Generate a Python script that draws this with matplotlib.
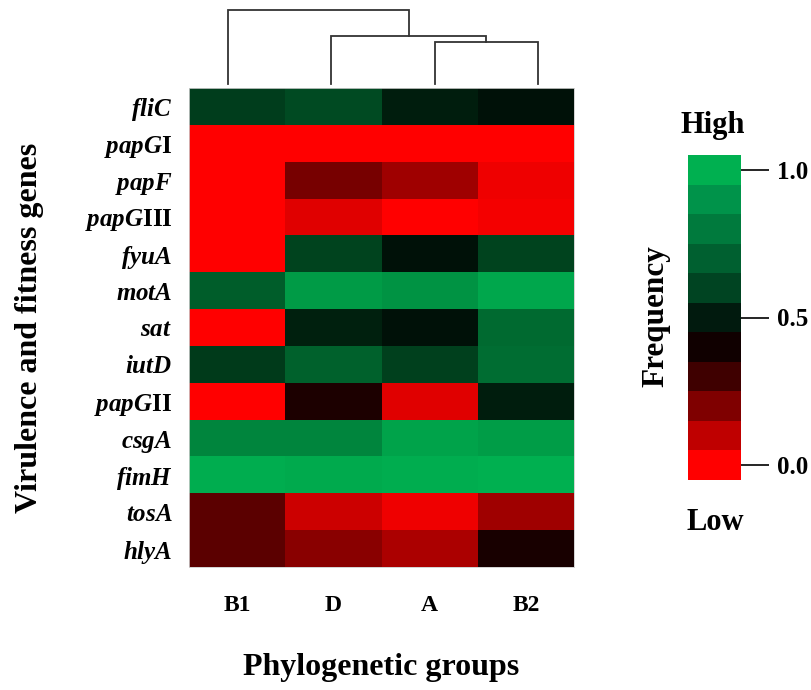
import numpy as np
import matplotlib
matplotlib.use("Agg")
import matplotlib.pyplot as plt
from matplotlib.colors import LinearSegmentedColormap, ListedColormap, BoundaryNorm

# 热图数据：行 = 基因，列 = 系统发育群
genes = ["fliC", "papGI", "papF", "papGIII", "fyuA", "motA", "sat",
         "iutD", "papGII", "csgA", "fimH", "tosA", "hlyA"]
gene_labels = [r"$\mathit{fliC}$", r"$\mathit{papG}\mathrm{I}$", r"$\mathit{papF}$",
               r"$\mathit{papG}\mathrm{III}$", r"$\mathit{fyuA}$", r"$\mathit{motA}$",
               r"$\mathit{sat}$", r"$\mathit{iutD}$", r"$\mathit{papG}\mathrm{II}$",
               r"$\mathit{csgA}$", r"$\mathit{fimH}$", r"$\mathit{tosA}$", r"$\mathit{hlyA}$"]
groups = ["B1", "D", "A", "B2"]

freq_B1 = [0.64, 0.00, 0.00, 0.00, 0.00, 0.74, 0.00, 0.63, 0.00, 0.865, 0.99, 0.29, 0.29]
freq_D = [0.68, 0.00, 0.24, 0.055, 0.66, 0.93, 0.55, 0.75, 0.40, 0.865, 0.98, 0.09, 0.21]
freq_A = [0.54, 0.00, 0.17, 0.00, 0.50, 0.91, 0.50, 0.65, 0.055, 0.96, 0.99, 0.03, 0.15]
freq_B2 = [0.50, 0.00, 0.03, 0.02, 0.66, 0.97, 0.78, 0.79, 0.54, 0.94, 1.00, 0.17, 0.41]

# 聚类树：(左, 右, 高度)
merges = [("A", "B2", 0.57), ("D", "A+B2", 0.65), ("B1", "D+A+B2", 1.00)]

# 图例色块
bar_colors = ["#FF0000", "#BF0000", "#7F0000", "#3F0000", "#100000",
              "#011A0E", "#004422", "#006030", "#007A3D", "#00934A", "#00B050"]
bar_ticks = [0.0, 0.5, 1.0]

plt.rcParams["font.family"] = ["Liberation Serif", "DejaVu Serif"]
plt.rcParams["font.weight"] = "bold"
plt.rcParams["mathtext.fontset"] = "custom"
plt.rcParams["mathtext.rm"] = "Liberation Serif:bold"
plt.rcParams["mathtext.it"] = "Liberation Serif:italic:bold"
plt.rcParams["mathtext.bf"] = "Liberation Serif:bold"

fig = plt.figure(figsize=(8.11, 6.90), dpi=100)
W, H = 811.0, 690.0


def box(x0, y0, x1, y1):
    return [x0 / W, 1 - y1 / H, (x1 - x0) / W, (y1 - y0) / H]


# 热图
cmap = LinearSegmentedColormap.from_list(
    "rbg", [(0.0, "#FF0000"), (0.45, "#000000"), (1.0, "#00B050")])
data = np.array([freq_B1, freq_D, freq_A, freq_B2]).T

ax = fig.add_axes(box(189, 88, 574, 567))
ax.pcolormesh(np.arange(len(groups) + 1), np.arange(len(genes) + 1), data,
              cmap=cmap, vmin=0, vmax=1)
ax.set_xlim(0, len(groups))
ax.set_ylim(len(genes), 0)
ax.set_yticks(np.arange(len(genes)) + 0.5)
ax.set_yticklabels(gene_labels, fontsize=18)
ax.set_xticks(np.arange(len(groups)) + 0.5)
ax.set_xticklabels(groups, fontsize=17, fontweight="bold")
ax.tick_params(axis="y", length=0, pad=12)
ax.tick_params(axis="x", length=0, pad=20)
for s in ax.spines.values():
    s.set_color("#cccccc")
    s.set_linewidth(0.6)

# 聚类树
dax = fig.add_axes(box(176.5, 10, 589.5, 84))
pos = {g: i for i, g in enumerate(groups)}
hgt = {g: 0.0 for g in groups}
for left, right, h in merges:
    xl, xr = pos[left], pos[right]
    dax.plot([xl, xl, xr, xr], [hgt[left], h, h, hgt[right]],
             color="#333333", lw=1.3, clip_on=False, solid_joinstyle="miter")
    name = left + "+" + right
    pos[name] = (xl + xr) / 2
    hgt[name] = h
dax.set_xlim(-0.5, len(groups) - 0.5)
dax.set_ylim(0, 1.0)
dax.axis("off")

# 色条
cax = fig.add_axes(box(688, 155, 741, 480))
edges = np.linspace(-0.05, 1.05, len(bar_colors) + 1)
cm_bar = ListedColormap(bar_colors)
norm = BoundaryNorm(edges, cm_bar.N)
cb = fig.colorbar(plt.cm.ScalarMappable(norm=norm, cmap=cm_bar), cax=cax,
                  boundaries=edges, ticks=bar_ticks)
cb.outline.set_visible(False)
cb.ax.minorticks_off()
cb.ax.set_yticklabels(["0.0", "0.5", "1.0"], fontsize=18, fontweight="bold")
cb.ax.tick_params(which="major", length=20, width=1.2, pad=6, color="black")

fig.text(713 / W, 1 - 126 / H, "High", ha="center", va="center", fontsize=22, fontweight="bold")
fig.text(715 / W, 1 - 523 / H, "Low", ha="center", va="center", fontsize=22, fontweight="bold")
fig.text(656 / W, 1 - 316 / H, "Frequency", ha="center", va="center", rotation=90,
         fontsize=22.5, fontweight="bold")
fig.text(30 / W, 1 - 328 / H, "Virulence and fitness genes", ha="center", va="center",
         rotation=90, fontsize=23, fontweight="bold")
fig.text(381 / W, 1 - 668 / H, "Phylogenetic groups", ha="center", va="center",
         fontsize=23, fontweight="bold")

fig.savefig("out.png", dpi=100)
